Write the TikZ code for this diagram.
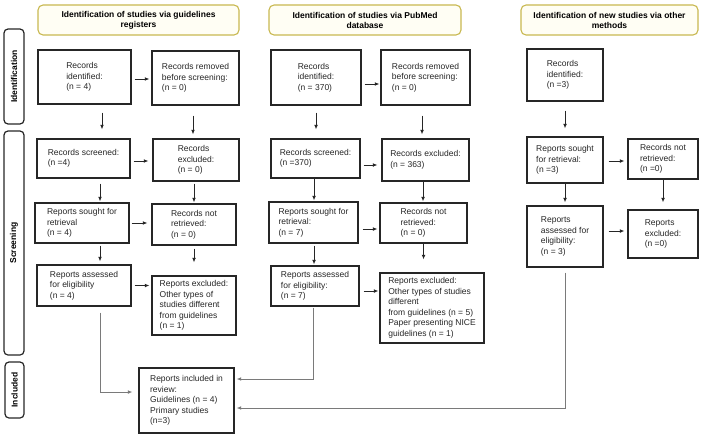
\documentclass[tikz,border=0pt]{standalone}
\usepackage{fontspec}
\setmainfont{Liberation Sans}
\usetikzlibrary{arrows.meta}
\definecolor{hdrline}{HTML}{C8B850}
\definecolor{hdrfill}{HTML}{FFFEF4}
\definecolor{conngray}{HTML}{7A7A7A}
\tikzset{
 bx/.style={draw=black!85, line width=1.2pt, align=left, inner sep=0pt, text=black!85, font=\fontsize{8.5}{10.5}\selectfont},
 hdr/.style={draw=hdrline, fill=hdrfill, line width=1.1pt, rounded corners=5pt, align=center, inner sep=0pt, font=\fontsize{8.5}{10}\selectfont\bfseries},
 side/.style={draw=black!85, line width=1.2pt, rounded corners=4pt, rotate=90, inner sep=0pt, font=\fontsize{8.5}{10}\selectfont\bfseries},
 arr/.style={-{Latex[length=4.5pt,width=3.8pt]}, line width=0.9pt, black!85},
 conn/.style={-{Latex[length=4.5pt,width=3.8pt]}, line width=1pt, conngray},
}
\newcommand{\bxn}[6]{\node[bx, minimum width=#4pt, minimum height=#5pt] (#1) at (#2,#3) {#6};}
\begin{document}
\begin{tikzpicture}[x=1pt,y=-1pt]
\useasboundingbox (0,0) rectangle (708,436);
% headers
\node[hdr, minimum width=201pt, minimum height=30pt] (h1) at (138.5,20) {Identification of studies via guidelines\\registers};
\node[hdr, minimum width=192pt, minimum height=30pt] (h2) at (365,20) {Identification of studies via PubMed\\database};
\node[hdr, minimum width=177pt, minimum height=30pt] (h3) at (609.5,20) {Identification of new studies via other\\methods};
% side labels
\node[side, minimum width=95pt, minimum height=20pt] (sid) at (14,76.5) {Identification};
\node[side, minimum width=224pt, minimum height=20pt] (sscr) at (14,243) {Screening};
\node[side, minimum width=56pt, minimum height=19pt] (sinc) at (14.5,390) {Included};
% column 1
\bxn{gid}{84.5}{77}{93}{54}{Records\\identified:\\(n = 4)}
\bxn{grm}{195.5}{78}{87}{54}{Records removed\\before screening:\\(n = 0)}
\bxn{gscr}{83.5}{158.5}{93}{39}{Records screened:\\(n =4)}
\bxn{gexc}{196}{160}{86}{42}{Records\\excluded:\\(n = 0)}
\bxn{gsought}{82}{223}{94}{40}{Reports sought for\\retrieval\\(n = 4)}
\bxn{gnotret}{194}{224.5}{84}{41}{Records not\\retrieved:\\(n = 0)}
\bxn{gassess}{84}{285.5}{94}{41}{Reports assessed\\for eligibility\\(n = 4)}
\bxn{grexc}{194}{305.5}{84}{59}{Reports excluded:\\Other types of\\studies different\\from guidelines\\(n = 1)}
% column 2
\bxn{pid}{316}{77.5}{90}{55}{Records\\identified:\\(n = 370)}
\bxn{prm}{425.5}{77.5}{89}{55}{Records removed\\before screening:\\(n = 0)}
\bxn{pscr}{315.5}{158.5}{89}{39}{Records screened:\\(n =370)}
\bxn{pexc}{425.5}{160}{87}{42}{Records excluded:\\(n = 363)}
\bxn{psought}{313.5}{222.5}{89}{41}{Reports sought for\\retrieval:\\(n = 7)}
\bxn{pnotret}{423.5}{223}{87}{40}{Records not\\retrieved:\\(n = 0)}
\bxn{passess}{315}{286}{88}{40}{Reports assessed\\for eligibility:\\(n = 7)}
\bxn{prexc}{432}{308}{104}{70}{Reports excluded:\\Other types of studies\\different\\from guidelines (n = 5)\\Paper presenting NICE\\guidelines (n = 1)}
% column 3
\bxn{oid}{565}{75}{76}{52}{Records\\identified:\\(n =3)}
\bxn{osought}{565}{160}{76}{46}{Reports sought\\for retrieval:\\(n =3)}
\bxn{onotret}{663}{159}{70}{40}{Records not\\retrieved:\\(n =0)}
\bxn{oassess}{565}{236.5}{76}{61}{Reports\\assessed for\\eligibility:\\(n = 3)}
\bxn{orexc}{663}{234}{70}{48}{Reports\\excluded:\\(n =0)}
% included
\bxn{incl}{186.5}{400.5}{95}{65}{Reports included in\\review:\\Guidelines (n = 4)\\Primary studies\\(n=3)}
% horizontal arrows
\draw[arr, shorten <=3pt, shorten >=2pt] ([yshift=-2pt]gid.east) -- ([yshift=-2pt]gid.east -| grm.west);
\draw[arr, shorten <=3pt, shorten >=4pt] ([yshift=-2.5pt]gscr.east) -- ([yshift=-2.5pt]gscr.east -| gexc.west);
\draw[arr, shorten <=2pt, shorten >=4pt] (gsought.east) -- (gsought.east -| gnotret.west);
\draw[arr, shorten <=3pt, shorten >=2pt] (gassess.east) -- (gassess.east -| grexc.west);
\draw[arr, shorten <=3pt, shorten >=1pt] ([yshift=-6.5pt]pid.east) -- ([yshift=-6.5pt]pid.east -| prm.west);
\draw[arr, shorten <=3pt, shorten >=4pt] ([yshift=-6.5pt]pscr.east) -- ([yshift=-6.5pt]pscr.east -| pexc.west);
\draw[arr, shorten <=4pt, shorten >=2pt] ([yshift=-6.5pt]psought.east) -- ([yshift=-6.5pt]psought.east -| pnotret.west);
\draw[arr, shorten <=4pt, shorten >=1pt] ([yshift=-5pt]passess.east) -- ([yshift=-5pt]passess.east -| prexc.west);
\draw[arr, shorten <=5pt, shorten >=3pt] ([yshift=-1pt]osought.east) -- ([yshift=-1pt]osought.east -| onotret.west);
\draw[arr, shorten <=5pt, shorten >=3pt] ([yshift=5.5pt]oassess.east) -- ([yshift=5.5pt]oassess.east -| orexc.west);
% vertical arrows
\draw[arr, shorten <=8pt, shorten >=9pt] ([xshift=17.5pt]gid.south) -- ([xshift=17.5pt]gid.south |- gscr.north);
\draw[arr, shorten <=10pt, shorten >=4pt] ([xshift=-2.5pt]grm.south) -- ([xshift=-2.5pt]grm.south |- gexc.north);
\draw[arr, shorten <=5pt, shorten >=1pt] ([xshift=16.5pt]gscr.south) -- ([xshift=16.5pt]gscr.south |- gsought.north);
\draw[arr, shorten <=2pt, shorten >=1pt] ([xshift=-2pt]gexc.south) -- ([xshift=-2pt]gexc.south |- gnotret.north);
\draw[arr, shorten <=2pt, shorten >=3pt] ([xshift=18pt]gsought.south) -- ([xshift=18pt]gsought.south |- gassess.north);
\draw[arr, shorten <=3pt, shorten >=13pt] (gnotret.south) -- (gnotret.south |- grexc.north);
\draw[arr, shorten <=7pt, shorten >=9pt] (pid.south) -- (pid.south |- pscr.north);
\draw[arr, shorten <=10pt, shorten >=4pt] ([xshift=-3.5pt]prm.south) -- ([xshift=-3.5pt]prm.south |- pexc.north);
\draw[arr, shorten <=0pt, shorten >=1pt] ([xshift=-1.5pt]pscr.south) -- ([xshift=-1.5pt]pscr.south |- psought.north);
\draw[arr, shorten <=0pt, shorten >=1pt] ([xshift=-2.5pt]pexc.south) -- ([xshift=-2.5pt]pexc.south |- pnotret.north);
\draw[arr, shorten <=2pt, shorten >=1pt] ([xshift=0.5pt]psought.south) -- ([xshift=0.5pt]psought.south |- passess.north);
\draw[arr, shorten <=0pt, shorten >=13pt] (pnotret.south) -- (pnotret.south |- prexc.north);
\draw[arr, shorten <=9pt, shorten >=8pt] (oid.south) -- (oid.south |- osought.north);
\draw[arr, shorten <=0pt, shorten >=3pt] (osought.south) -- (osought.south |- oassess.north);
\draw[arr, shorten <=0pt, shorten >=7pt] (onotret.south) -- (onotret.south |- orexc.north);
% long connectors to included
\draw[conn, shorten <=6pt, shorten >=6pt] ([xshift=16pt]gassess.south) |- ([yshift=8.5pt]incl.west);
\draw[conn, shorten <=1pt, shorten >=2pt] ([xshift=-2pt]passess.south) |- ([yshift=21.5pt]incl.east);
\draw[conn, shorten <=5pt, shorten >=2pt] (oassess.south) |- ([yshift=-7.5pt]incl.east);
\end{tikzpicture}
\end{document}
